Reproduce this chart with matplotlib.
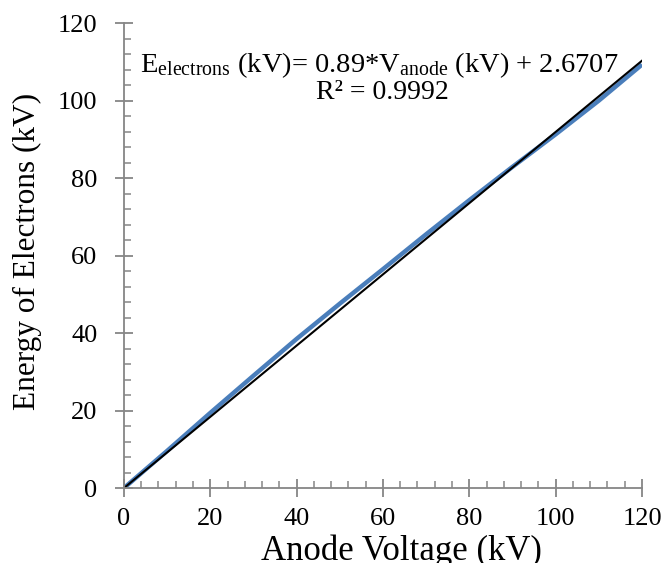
import matplotlib
matplotlib.use("Agg")
import matplotlib.pyplot as plt
from matplotlib.ticker import MultipleLocator

# measured data (blue) and the fitted trend line (black)
anode_kv = [0, 10, 20, 30, 40, 50, 60, 70, 80, 90, 100, 110, 120]
electron_kv = [0, 9.6, 19.4, 29.0, 38.5, 47.6, 56.5, 65.5, 74.3, 82.9, 91.3, 100.0, 109.3]
trend_x = [0, 120]
trend_y = [0, 110.3]

eq_text = r"E$_{\mathrm{electrons}}$ (kV)= 0.89*V$_{\mathrm{anode}}$ (kV) + 2.6707"
r2_text = "R² = 0.9992"

plt.rcParams['font.family'] = ['Liberation Serif', 'DejaVu Serif']
plt.rcParams['mathtext.fontset'] = 'custom'
plt.rcParams['mathtext.rm'] = 'Liberation Serif'
plt.rcParams['mathtext.it'] = 'Liberation Serif:italic'

fig = plt.figure(figsize=(6.66, 5.63), dpi=100)
ax = fig.add_axes([0.186, 0.133, 0.778, 0.826])

ax.plot(anode_kv, electron_kv, color='#4a7ebb', lw=3.2, solid_capstyle='butt')
ax.plot(trend_x, trend_y, color='black', lw=1.5)

ax.set_xlim(0, 120)
ax.set_ylim(0, 120)
ax.xaxis.set_major_locator(MultipleLocator(20))
ax.yaxis.set_major_locator(MultipleLocator(20))
ax.xaxis.set_minor_locator(MultipleLocator(4))
ax.yaxis.set_minor_locator(MultipleLocator(4))

gray = '#868686'
for s in ['top', 'right']:
    ax.spines[s].set_visible(False)
for s in ['left', 'bottom']:
    ax.spines[s].set_color(gray)
    ax.spines[s].set_linewidth(1.3)

ax.tick_params(which='major', direction='inout', length=13, width=1.3, color=gray,
               labelsize=19)
ax.tick_params(axis='x', which='major', pad=8)
ax.tick_params(axis='y', which='major', pad=12.5)
ax.tick_params(which='minor', direction='in', length=5, width=1.1, color=gray)

ax.set_xlabel('Anode Voltage (kV)', fontsize=25, va='baseline')
ax.set_ylabel('Energy of Electrons (kV)', fontsize=22.5, va='top')
ax.xaxis.set_label_coords(0.536, -0.155, transform=ax.transAxes)
ax.yaxis.set_label_coords(-0.215, 0.51, transform=ax.transAxes)

ax.text(0.493, 0.91, eq_text, transform=ax.transAxes, ha='center', va='center', fontsize=20.5)
ax.text(0.498, 0.85, r2_text, transform=ax.transAxes, ha='center', va='center', fontsize=20)

fig.savefig('out.png', dpi=100)
